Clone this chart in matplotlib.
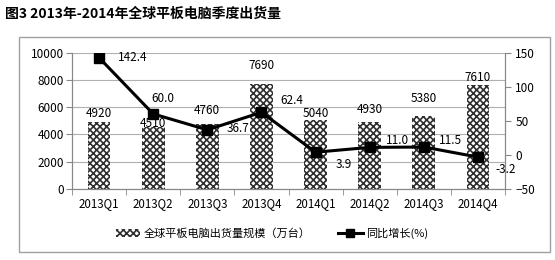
import matplotlib
matplotlib.use("Agg")
import matplotlib.pyplot as plt
from matplotlib.patches import Rectangle, Patch
from matplotlib.lines import Line2D

plt.rcParams['font.family'] = ['Noto Sans CJK SC', 'DejaVu Sans']
plt.rcParams['hatch.linewidth'] = 1.2

categories = ["2013Q1", "2013Q2", "2013Q3", "2013Q4", "2014Q1", "2014Q2", "2014Q3", "2014Q4"]
shipments = [4920, 4510, 4760, 7690, 5040, 4930, 5380, 7610]
growth = [142.4, 60.0, 36.7, 62.4, 3.9, 11.0, 11.5, -3.2]
growth_labels = ["142.4", "60.0", "36.7", "62.4", "3.9", "11.0", "11.5", "-3.2"]
bar_name = "全球平板电脑出货量规模（万台）"
line_name = "同比增长(%)"
title = "图3 2013年-2014年全球平板电脑季度出货量"

# label offsets (points) - styling only
bar_lbl_off = [(0, 5.8), (0, 2.9), (0, 9.4), (0, 13), (0, 5), (0, 8.6), (0, 12.2), (0, 5.8)]
line_lbl_off = [(24.5, 0), (7, 11), (22, 0.7), (22, 8.6), (20, -8.6), (20, 5), (19.5, 5), (20, -8.6)]

fig = plt.figure(figsize=(5.55, 2.6), dpi=100)
# outer box
fig.patches.append(Rectangle((19/555, 1-252/260), 531/555, 215/260, transform=fig.transFigure,
                             fill=False, edgecolor='#a0a0a0', linewidth=1.0))
fig.text(5/555, 1-14/260, title, fontsize=10, fontweight='bold', va='center', ha='left')

ax = fig.add_axes([72/555, 1-189/260, 433/555, 136.5/260])
x = list(range(len(categories)))
ax.bar(x, shipments, width=0.42, color='white', edgecolor='#303030', hatch='xxxxx',
       linewidth=0, zorder=2)
ax.set_ylim(0, 10000)
ax.set_yticks(range(0, 10001, 2000))
ax.set_xlim(-0.5, len(categories) - 0.5)
ax.set_xticks(x)
ax.set_xticklabels(categories, fontsize=8.3)
ax.set_xticks([i - 0.5 for i in range(len(categories) + 1)], minor=True)
ax.tick_params(axis='x', which='major', length=0, pad=6)
ax.tick_params(axis='x', which='minor', length=4, color='#888888')
ax.tick_params(axis='y', labelsize=8.5, length=4, color='#888888', pad=2)
ax.grid(axis='y', color='#b0b0b0', linewidth=0.8, zorder=0)
ax.set_axisbelow(True)
ax.spines['top'].set_visible(False)
for s in ['left', 'bottom', 'right']:
    ax.spines[s].set_color('#888888')

for i, v in enumerate(shipments):
    ax.annotate(str(v), (i, v), xytext=bar_lbl_off[i], textcoords='offset points',
                ha='center', va='center', fontsize=8.5, zorder=5)

ax2 = ax.twinx()
ax2.plot(x, growth, color='black', linewidth=2.2, marker='s', markersize=7.5, zorder=4)
ax2.set_ylim(-50, 150)
ax2.set_yticks(range(-50, 151, 50))
ax2.tick_params(axis='y', labelsize=8.5, length=4, color='#888888')
ax2.spines['top'].set_visible(False)
for s in ['left', 'bottom', 'right']:
    ax2.spines[s].set_color('#888888')
for i, v in enumerate(growth):
    ax2.annotate(growth_labels[i], (i, v), xytext=line_lbl_off[i], textcoords='offset points',
                 ha='center', va='center', fontsize=8.5, zorder=5)

handles = [Patch(facecolor='white', edgecolor='#303030', hatch='xxxxx', linewidth=0),
           Line2D([0], [0], color='black', linewidth=2.2, marker='s', markersize=6)]
fig.legend(handles, [bar_name, line_name], loc='center', bbox_to_anchor=(0.49, 1-233/260),
           ncol=2, frameon=False, fontsize=8, handlelength=2.2, handletextpad=0.3,
           columnspacing=2.5)

fig.savefig("out.png", dpi=100)
